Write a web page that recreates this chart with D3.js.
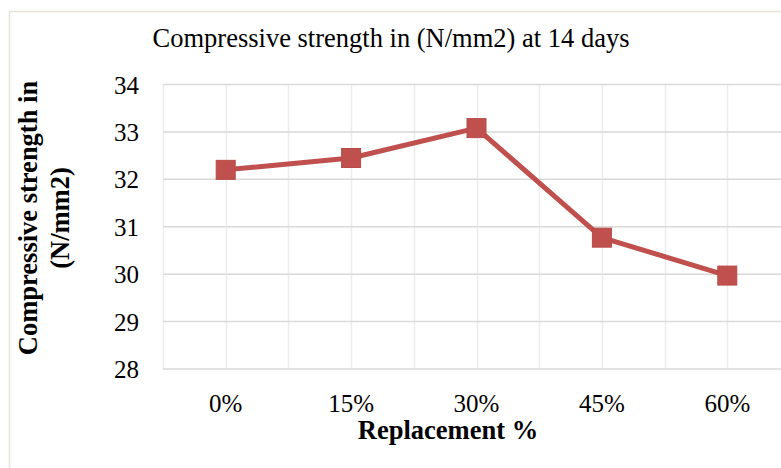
<!DOCTYPE html>
<html>
<head>
<meta charset="utf-8">
<script src="https://cdn.jsdelivr.net/npm/d3@7"></script>
<style>
    body { margin: 0; background: #ffffff; }
    text { font-family: "Liberation Serif", "Times New Roman", serif; fill: #000000; }
</style>
</head>
<body>
<div id="chart"></div>
<script>
// Chart data
const categories = ["0%", "15%", "30%", "45%", "60%"];
const strength = [32.2, 32.45, 33.08, 30.77, 29.97];
const yTicks = [28, 29, 30, 31, 32, 33, 34];

// Layout constants
const width = 781;
const height = 468;
const plotLeft = 163;
const plotRight = 790;
const plotTop = 84.5;
const plotBottom = 369;
const lineColor = "#c0504d";

let svg = d3.select("#chart")
    .append("svg")
    .attr("width", width)
    .attr("height", height);

// Outer chart border (right and bottom run past the picture)
svg.append("rect")
    .attr("x", 9.5)
    .attr("y", 11.5)
    .attr("width", 800)
    .attr("height", 500)
    .attr("fill", "none")
    .attr("stroke", "#e6e4d6")
    .attr("stroke-width", 1.5);

let x = d3.scaleBand()
    .domain(categories)
    .range([plotLeft, plotRight]);

let y = d3.scaleLinear()
    .domain([28, 34])
    .range([plotBottom, plotTop]);

// Vertical gridlines at band edges and band centres
let vLines = [];
categories.forEach((c) => {
    vLines.push(x(c));
    vLines.push(x(c) + x.bandwidth() / 2);
});
vLines.push(plotRight);

svg.append("g")
    .selectAll("line")
    .data(vLines)
    .enter()
    .append("line")
    .attr("x1", (d) => Math.round(d) + 0.5)
    .attr("x2", (d) => Math.round(d) + 0.5)
    .attr("y1", plotTop)
    .attr("y2", plotBottom)
    .attr("stroke", "#ececec")
    .attr("stroke-width", 1.5);

// Horizontal gridlines
svg.append("g")
    .selectAll("line")
    .data(yTicks)
    .enter()
    .append("line")
    .attr("x1", plotLeft)
    .attr("x2", plotRight)
    .attr("y1", (d) => y(d))
    .attr("y2", (d) => y(d))
    .attr("stroke", "#d9d9d9")
    .attr("stroke-width", 1.5);

// Y tick labels
svg.append("g")
    .selectAll("text")
    .data(yTicks)
    .enter()
    .append("text")
    .attr("x", 139)
    .attr("y", (d) => y(d) + 9)
    .attr("text-anchor", "end")
    .attr("font-size", 25)
    .text((d) => d);

// X tick labels
svg.append("g")
    .selectAll("text")
    .data(categories)
    .enter()
    .append("text")
    .attr("x", (d) => x(d) + x.bandwidth() / 2)
    .attr("y", 412)
    .attr("text-anchor", "middle")
    .attr("font-size", 25)
    .text((d) => d);

// The line and its square markers
let line = d3.line()
    .x((d, i) => x(categories[i]) + x.bandwidth() / 2)
    .y((d) => y(d));

svg.append("path")
    .datum(strength)
    .attr("d", line)
    .attr("fill", "none")
    .attr("stroke", lineColor)
    .attr("stroke-width", 5)
    .attr("stroke-linejoin", "round");

const markerSize = 19;
svg.append("g")
    .selectAll("rect")
    .data(strength)
    .enter()
    .append("rect")
    .attr("x", (d, i) => x(categories[i]) + x.bandwidth() / 2 - markerSize / 2)
    .attr("y", (d) => y(d) - markerSize / 2)
    .attr("width", markerSize)
    .attr("height", markerSize)
    .attr("fill", lineColor)
    .attr("stroke", "#b84a47")
    .attr("stroke-width", 1);

// Chart title
svg.append("text")
    .attr("x", 391)
    .attr("y", 47)
    .attr("text-anchor", "middle")
    .attr("font-size", 26.5)
    .text("Compressive strength in (N/mm2) at 14 days");

// X axis title
svg.append("text")
    .attr("x", 448)
    .attr("y", 439)
    .attr("text-anchor", "middle")
    .attr("font-size", 26.5)
    .attr("font-weight", "bold")
    .text("Replacement %");

// Y axis title, two lines
let yTitle = svg.append("text")
    .attr("transform", "translate(37, 218) rotate(-90)")
    .attr("text-anchor", "middle")
    .attr("font-size", 26.5)
    .attr("font-weight", "bold");
yTitle.append("tspan")
    .attr("x", 0)
    .attr("y", 0)
    .text("Compressive strength in");
yTitle.append("tspan")
    .attr("x", 0)
    .attr("y", 32)
    .text("(N/mm2)");
</script>
</body>
</html>
